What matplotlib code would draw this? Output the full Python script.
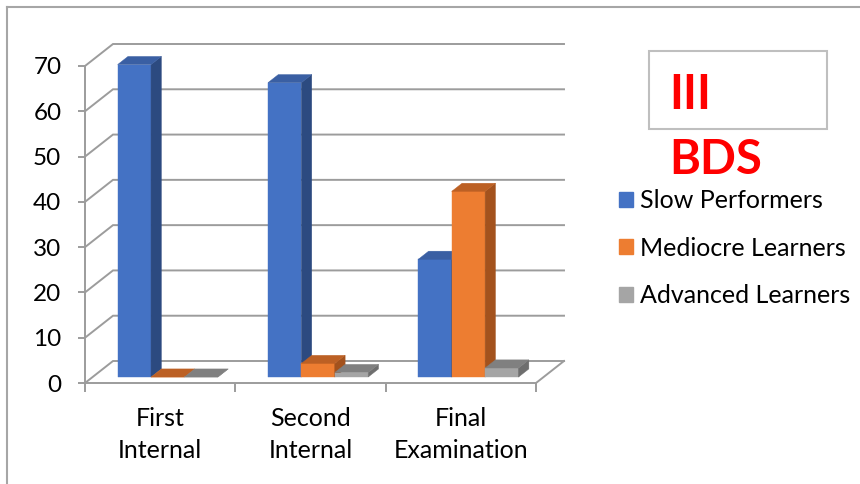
import matplotlib
matplotlib.use("Agg")
import matplotlib.pyplot as plt
from matplotlib.patches import Polygon, Patch, Rectangle
from matplotlib.lines import Line2D

plt.rcParams['font.family'] = ['Lato', 'DejaVu Sans']

# ---- data ----
categories = ["First\nInternal", "Second\nInternal", "Final\nExamination"]
series_names = ["Slow Performers", "Mediocre Learners", "Advanced Learners"]
slow = [69, 65, 26]
mediocre = [0, 3, 41]
advanced = [0, 1, 2]
y_ticks = [0, 10, 20, 30, 40, 50, 60, 70]
title_lines = ["III", "BDS"]

series_values = [slow, mediocre, advanced]

# face colours per series: front, side, top
face_colors = [
    ("#4472C4", "#2C4A80", "#3A5FA3"),
    ("#ED7D31", "#A3521D", "#BC6024"),
    ("#A5A5A5", "#6E6E6E", "#808080"),
]

W, H = 860, 484
fig = plt.figure(figsize=(W / 100, H / 100), dpi=100)

# axes rectangle = front plane of the 3-D box
left_px, right_px, top_px, bot_px = 85, 536, 66, 383
ax = fig.add_axes([left_px / W, (H - bot_px) / H,
                   (right_px - left_px) / W, (bot_px - top_px) / H])
ax.set_xlim(0, 3)
ax.set_ylim(0, 70)
ax.patch.set_alpha(0)

px_x = (right_px - left_px) / 3.0      # pixels per category
px_y = (bot_px - top_px) / 70.0        # pixels per value unit
DEPTH_X = 28 / px_x                    # full depth shift, data units
DEPTH_Y = 22 / px_y

def P(x, v, d):
    """point at category position x, value v, depth fraction d"""
    return (x + d * DEPTH_X, v + d * DEPTH_Y)

grid_c = "#9C9C9C"
grid_w = 1.4

# side-wall diagonals and back-wall gridlines
for v in y_ticks:
    ax.plot(*zip(P(0, v, 0), P(0, v, 1), P(3, v, 1)), color=grid_c,
            lw=grid_w, clip_on=False, zorder=1, solid_joinstyle="miter")
# floor right edge
ax.plot(*zip(P(3, 0, 0), P(3, 0, 1)), color=grid_c, lw=grid_w,
        clip_on=False, zorder=1)

# bars
bar_w = 2.0 / 9.0
d0, d1 = 0.27, 0.64
z = 3
for c in range(len(categories)):
    for s, vals in enumerate(series_values):
        v = vals[c]
        x0 = c + 1.0 / 6.0 + s * bar_w
        x1 = x0 + bar_w
        front_c, side_c, top_c = face_colors[s]
        faces = [
            ([P(x0, 0, d0), P(x1, 0, d0), P(x1, v, d0), P(x0, v, d0)], front_c),
            ([P(x1, 0, d0), P(x1, 0, d1), P(x1, v, d1), P(x1, v, d0)], side_c),
            ([P(x0, v, d0), P(x1, v, d0), P(x1, v, d1), P(x0, v, d1)], top_c),
        ]
        for pts, col in faces:
            ax.add_patch(Polygon(pts, closed=True, facecolor=col,
                                 edgecolor=col, lw=0.3, clip_on=False,
                                 zorder=z))
        z += 1

# axis styling
for side in ("top", "right"):
    ax.spines[side].set_visible(False)
for side in ("left", "bottom"):
    ax.spines[side].set_color(grid_c)
    ax.spines[side].set_linewidth(grid_w)
    ax.spines[side].set_zorder(2)

ax.set_yticks(y_ticks)
ax.tick_params(axis="y", length=5, width=grid_w, color=grid_c,
               pad=12, labelsize=17.5, labelcolor="black")
ax.set_xticks([0, 1, 2, 3])
ax.set_xticklabels([])
ax.set_xticks([0.5, 1.5, 2.5], minor=True)
ax.set_xticklabels(categories, minor=True, fontsize=18, linespacing=1.48)
ax.tick_params(axis="x", which="major", length=6.5, width=grid_w,
               color=grid_c)
ax.tick_params(axis="x", which="minor", length=0, pad=17)

# legend
handles = [Patch(facecolor=fc[0], edgecolor=fc[0]) for fc in face_colors]
fig.legend(handles, series_names, loc="center left",
           bbox_to_anchor=(619 / W, 1 - 248 / H), frameon=False,
           fontsize=18, handlelength=0.55, handleheight=0.55,
           handletextpad=0.3, labelspacing=0.98, borderpad=0,
           borderaxespad=0)

# title box with red text
fig.patches.append(Rectangle((649 / W, 1 - 129 / H), 178 / W, 78 / H,
                             transform=fig.transFigure, fill=False,
                             edgecolor="#BFBFBF", lw=1.5))
fig.text(669 / W, 1 - 95 / H, title_lines[0], color="#FF0000",
         fontsize=34, fontweight="bold", va="center", ha="left")
fig.text(669 / W, 1 - 160 / H, title_lines[1], color="#FF0000",
         fontsize=34, fontweight="bold", va="center", ha="left")

# outer frame (left and top edges)
frame_c = "#A6A6A6"
fig.add_artist(Line2D([7 / W, 7 / W], [0, 1 - 7 / H], color=frame_c,
                      lw=1.5, transform=fig.transFigure))
fig.add_artist(Line2D([7 / W, 1], [1 - 7 / H, 1 - 7 / H], color=frame_c,
                      lw=1.5, transform=fig.transFigure))

fig.savefig("out.png", dpi=100, facecolor="white")
